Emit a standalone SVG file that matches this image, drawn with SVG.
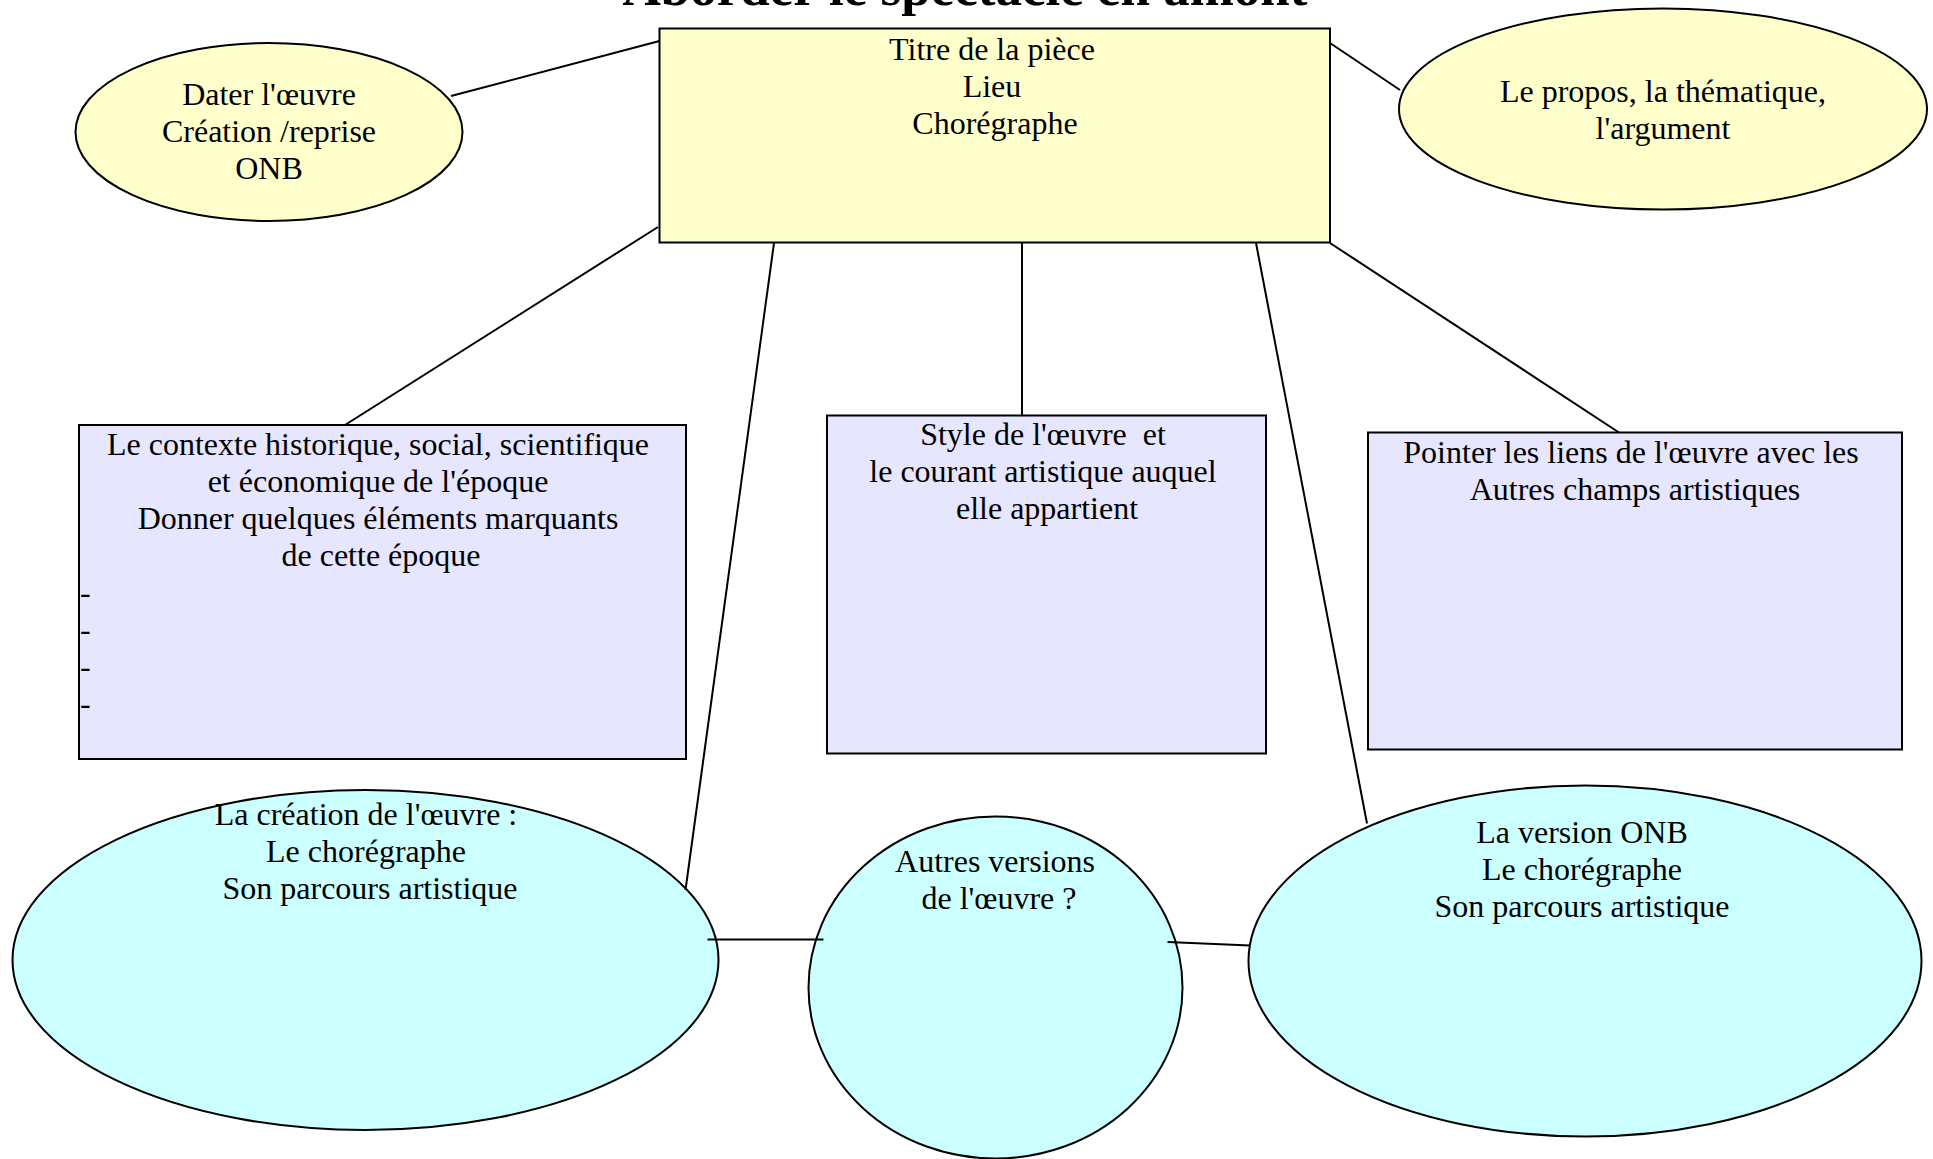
<svg xmlns="http://www.w3.org/2000/svg" width="1933" height="1159" viewBox="0 0 1933 1159">
<style>
text{font-family:"Liberation Serif","Times New Roman",serif;font-size:32px;fill:#000;text-anchor:middle}
.title{font-weight:bold;font-size:53px}
.l{text-anchor:start}
.sh{stroke:#000;stroke-width:2}
.y{fill:#ffffcc}
.v{fill:#e6e6ff}
.c{fill:#ccffff}
.con line{stroke:#000;stroke-width:2}
</style>
<rect width="1933" height="1159" fill="#fff"/>
<text class="title" x="965" y="5">Aborder le spectacle en amont</text>
<g id="titre">
<rect class="sh y" x="659.5" y="28.5" width="670.5" height="214"/>
<text x="992" y="60">Titre de la pièce</text>
<text x="992" y="97">Lieu</text>
<text x="995" y="134">Chorégraphe</text>
</g>
<g id="dater">
<ellipse class="sh y" cx="269" cy="132" rx="193.5" ry="89"/>
<text x="269" y="105">Dater l'œuvre</text>
<text x="269" y="142">Création /reprise</text>
<text x="269" y="179">ONB</text>
</g>
<g id="propos">
<ellipse class="sh y" cx="1663" cy="109" rx="264" ry="100.5"/>
<text x="1663" y="102">Le propos, la thématique,</text>
<text x="1663" y="139">l'argument</text>
</g>
<g id="contexte">
<rect class="sh v" x="79" y="425" width="607" height="334"/>
<text x="378" y="455">Le contexte historique, social, scientifique</text>
<text x="378" y="492">et économique de l'époque</text>
<text x="378" y="529">Donner quelques éléments marquants</text>
<text x="381" y="566">de cette époque</text>
<text class="l" x="80" y="603">-</text>
<text class="l" x="80" y="640">-</text>
<text class="l" x="80" y="677">-</text>
<text class="l" x="80" y="714">-</text>
</g>
<g id="style">
<rect class="sh v" x="827" y="415.5" width="439" height="338"/>
<text x="1043" y="445" xml:space="preserve">Style de l'œuvre  et</text>
<text x="1043" y="482">le courant artistique auquel</text>
<text x="1047" y="519">elle appartient</text>
</g>
<g id="liens">
<rect class="sh v" x="1368" y="432.5" width="534" height="317"/>
<text x="1631" y="463">Pointer les liens de l'œuvre avec les</text>
<text x="1635" y="500">Autres champs artistiques</text>
</g>
<g id="creation">
<ellipse class="sh c" cx="365.5" cy="960" rx="353" ry="170"/>
<text x="366" y="825">La création de l'œuvre :</text>
<text x="366" y="862">Le chorégraphe</text>
<text x="370" y="899">Son parcours artistique</text>
</g>
<g id="autres">
<ellipse class="sh c" cx="995.5" cy="987.5" rx="187" ry="171"/>
<text x="995" y="872">Autres versions</text>
<text x="999" y="909">de l'œuvre ?</text>
</g>
<g id="version">
<ellipse class="sh c" cx="1585" cy="961" rx="336.5" ry="175.5"/>
<text x="1582" y="843">La version ONB</text>
<text x="1582" y="880">Le chorégraphe</text>
<text x="1582" y="917">Son parcours artistique</text>
</g>
<g id="connectors" class="con">
<line x1="451" y1="96" x2="659.5" y2="41"/>
<line x1="1330" y1="43" x2="1400" y2="90"/>
<line x1="658" y1="227" x2="345" y2="425"/>
<line x1="774" y1="243" x2="685.5" y2="890"/>
<line x1="1022" y1="243" x2="1022" y2="415.5"/>
<line x1="1256" y1="243" x2="1367" y2="823.5"/>
<line x1="1330" y1="243" x2="1619" y2="432.5"/>
<line x1="707.5" y1="939.5" x2="823.5" y2="939.5"/>
<line x1="1167.5" y1="942" x2="1250" y2="945.5"/>
</g>
</svg>
